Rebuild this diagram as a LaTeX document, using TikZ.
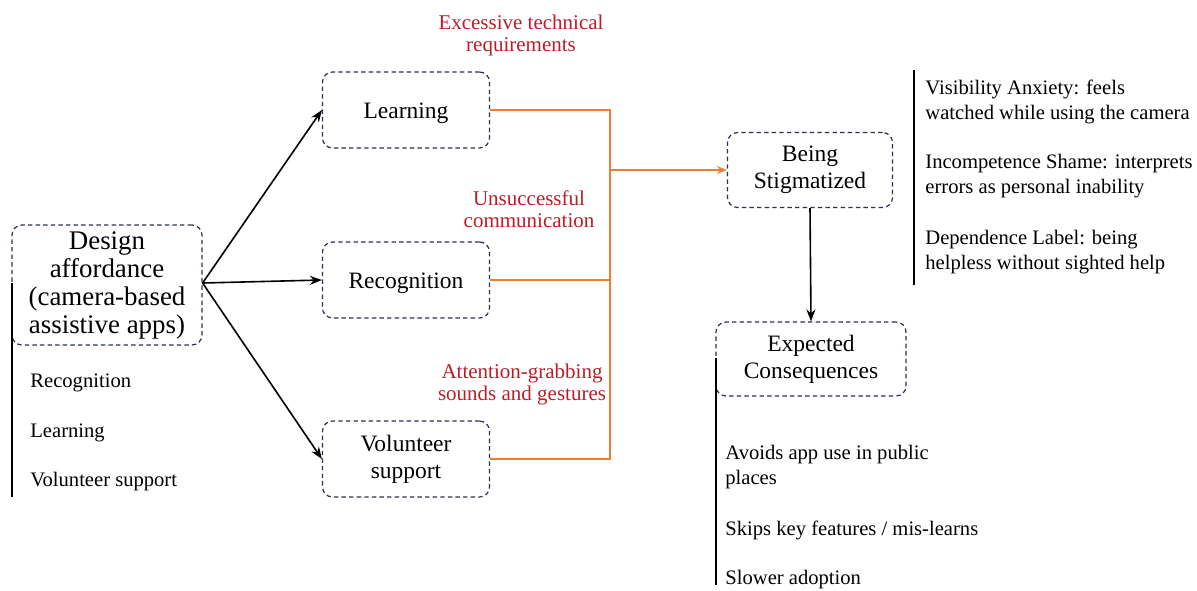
\documentclass[tikz,border=0pt]{standalone}
\usepackage{fontspec}
\setmainfont{Liberation Serif}
\usetikzlibrary{arrows.meta}
\definecolor{boxline}{RGB}{40,50,80}
\definecolor{flow}{RGB}{237,125,49}
\definecolor{barrier}{RGB}{185,30,40}
\tikzset{
    every node/.style={
        text=black
    },
    box/.style={
        draw=boxline, dash pattern=on 2.2pt off 1.6pt, rounded corners=5pt,
        line width=0.6pt, align=center, font=\fontsize{11.75}{13.5}\selectfont,
        minimum width=83.5pt, minimum height=38pt, inner sep=1pt
    },
    oneline/.style={
        text height=11pt, text depth=2.6pt
    },
    note/.style={
        align=left, anchor=west, inner sep=0pt,
        font=\fontsize{10.3}{12.5}\selectfont
    },
    barrier/.style={
        text=barrier, align=center, inner sep=0pt,
        font=\fontsize{10.5}{11}\selectfont
    }
}
\tikzstyle{link}=[-{Stealth[length=6pt,width=4.5pt]}, line width=0.8pt, black]
\tikzstyle{orange}=[flow, line width=0.8pt]

\begin{document}
\begin{tikzpicture}[x=0.5pt, y=-0.5pt]
\useasboundingbox (0,0) rectangle (1197,590);

\node[box, minimum width=95pt, minimum height=60pt,
      font=\fontsize{13.45}{14}\selectfont] (design) at (107,285)
    {Design\\affordance\\(camera-based\\assistive apps)};

\node[box, oneline] (learn) at (406,110) {Learning};
\node[box, oneline] (recog) at (406,280) {Recognition};
\node[box] (volun) at (406,459) {Volunteer\\support};

\node[box, minimum width=82.5pt, minimum height=37.5pt] (stigma) at (810,170) {Being\\Stigmatized};
\node[box, minimum width=95pt, minimum height=37pt] (conseq) at (811,359) {Expected\\Consequences};

% red barrier labels
\node[barrier] (tech) at (521,35) {Excessive technical\\requirements};
\node[barrier] (comm) at (529,209) {Unsuccessful\\communication};
\node[barrier] (attn) at (522,384) {Attention-grabbing\\sounds and gestures};

% affordance list
\node[note] (aff1) at (30,383) {Recognition};
\node[note] (aff2) at (30,433) {Learning};
\node[note] (aff3) at (30,482) {Volunteer support};
\coordinate (afftop) at (12,283);
\coordinate (affbot) at (12,497);
\draw[thick] (afftop) -- (affbot);

% stigma list
\node[note] (vis) at (925,101.5) {Visibility Anxiety: feels\\watched while using the camera};
\node[note] (inc) at (925,176.5) {Incompetence Shame: interprets\\errors as personal inability};
\node[note] (dep) at (925,252) {Dependence Label: being\\helpless without sighted help};
\coordinate (stgtop) at (914,70);
\coordinate (stgbot) at (914,285);
\draw[thick] (stgtop) -- (stgbot);

% consequence list
\node[note] (avoid) at (725,467.5) {Avoids app use in public\\places};
\node[note] (skip) at (725,530) {Skips key features / mis-learns};
\node[note] (slow) at (725,580) {Slower adoption};
\coordinate (cnstop) at (716,358);
\coordinate (cnsbot) at (716,585);
\draw[thick] (cnstop) -- (cnsbot);

% affordance to features
\coordinate (fork) at ([yshift=1pt]design.east);
\draw[link] (fork) -- (learn.west);
\draw[link] (fork) -- (recog.west);
\draw[link] (fork) -- (volun.west);

% features to stigma
\coordinate (jtop) at (610,110);
\coordinate (jbot) at (610,459);
\coordinate (jmid) at (610,170);
\draw[orange] (learn.east) -- (jtop) -- (jbot) -- (volun.east);
\draw[orange] (recog.east) -- (recog.east -| jtop);
\draw[orange, -{Stealth[length=5pt,width=4pt]}] (jmid) -- (stigma.west);

\draw[link] (stigma.south) -- (conseq.north);

\end{tikzpicture}
\end{document}
